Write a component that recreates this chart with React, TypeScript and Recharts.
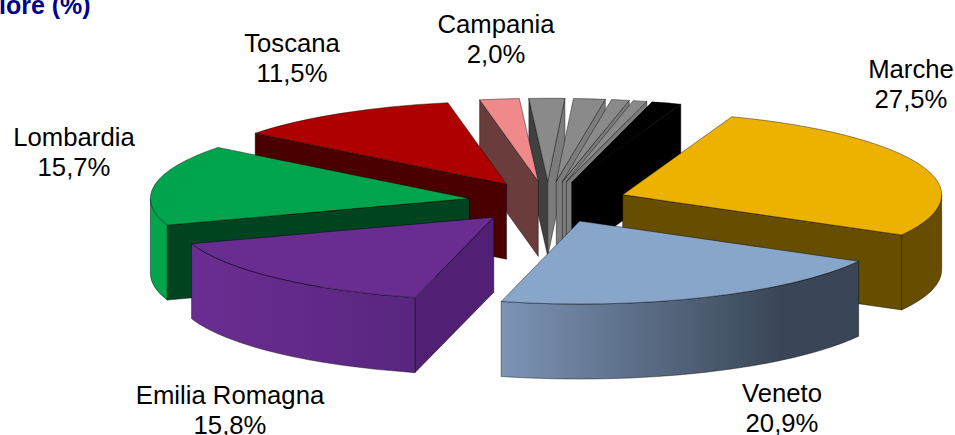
import React from "react";
import { PieChart, Pie } from "recharts";

// shares in %, clockwise from the back of the pie down the right side
const rightNames = ["Altro 1", "Altro 2", "Altro 3", "Altro 4", "Altro 5", "Marche", "Veneto"];
const rightValues = [1.8, 1.6, 0.9, 0.7, 1.5, 27.5, 20.9];
// counterclockwise from the same point, down the left side
const leftNames = ["Campania", "Toscana", "Lombardia", "Emilia Romagna"];
const leftValues = [2.0, 11.5, 15.74, 15.84];

const labelled = ["Marche", "Veneto", "Emilia Romagna", "Lombardia", "Toscana", "Campania"];

const FIRST_SLICE = 20; // degrees clockwise from top where Marche starts
const SQUASH = 83 / 319;
const DEPTH = 75;
const EXPLODE = 0.25;

const styles: Record<string, any> = {
  Marche: { top: "#EDB200", start: "#664D00", end: "#664D00", arc: "#664D00" },
  Veneto: { top: "#88A5CA", start: "#3A4657", end: "#7C94B5", arc: "url(#venetoArc)" },
  "Emilia Romagna": { top: "#692C91", start: "#512074", end: "#512074", arc: "url(#emiliaArc)" },
  Lombardia: { top: "#00A44C", start: "#00431F", end: "#00431F", arc: "#00A44C" },
  Toscana: { top: "#AE0000", start: "#4A0000", end: "#4A0000", arc: "#4A0000" },
  Campania: { top: "#F08A8A", start: "#6A3C3C", end: "#6A3C3C", arc: "#6A3C3C" },
  "Altro 1": { top: "#8A8A8A", start: "#404040", end: "#7C7C7C", arc: "#7C7C7C" },
  "Altro 2": { top: "#8A8A8A", start: "#404040", end: "#7C7C7C", arc: "#7C7C7C" },
  "Altro 3": { top: "#8A8A8A", start: "#404040", end: "#7C7C7C", arc: "#7C7C7C" },
  "Altro 4": { top: "#8A8A8A", start: "#404040", end: "#7C7C7C", arc: "#7C7C7C" },
  "Altro 5": { top: "#000000", start: "#000000", end: "#000000", arc: "#000000" },
};

// label centres relative to the pie centre
const labelSpots: Record<string, [number, number]> = {
  Marche: [363, -124],
  Veneto: [234, 200],
  "Emilia Romagna": [-318, 202],
  Lombardia: [-474, -56],
  Toscana: [-256, -150],
  Campania: [-52, -169],
};

const sum = (xs: number[]) => xs.reduce((a, b) => a + b, 0);
const toRad = (d: number) => (d * Math.PI) / 180;

const backAngle = 90 - (FIRST_SLICE - 3.6 * sum(rightValues.slice(0, 5)));
const rightData = rightNames.map((name, i) => ({ name, value: rightValues[i] }));
const leftData = leftNames.map((name, i) => ({ name, value: leftValues[i] }));

const Slice3D = (props: any) => {
  const { cx, cy, outerRadius, startAngle, endAngle, name } = props;
  const st = styles[name] || styles["Altro 1"];
  const a = outerRadius;
  const b = outerRadius * SQUASH;

  let t1 = 90 - Math.max(startAngle, endAngle);
  let t2 = 90 - Math.min(startAngle, endAngle);
  while (t1 < 0) {
    t1 += 360;
    t2 += 360;
  }
  const mid = (t1 + t2) / 2;
  const ox = cx + EXPLODE * a * Math.sin(toRad(mid));
  const oy = cy - EXPLODE * b * Math.cos(toRad(mid));
  const pt = (t: number) => [ox + a * Math.sin(toRad(t)), oy - b * Math.cos(toRad(t))];

  const [x1, y1] = pt(t1);
  const [x2, y2] = pt(t2);
  const line = { stroke: "#000", strokeOpacity: 0.6, strokeWidth: 0.7, strokeLinejoin: "round" as const };

  const wall = (x: number, y: number, fill: string) => (
    <path d={`M${ox},${oy}L${x},${y}L${x},${y + DEPTH}L${ox},${oy + DEPTH}Z`} fill={fill} {...line} />
  );

  const lo = Math.max(t1, 90);
  const hi = Math.min(t2, 270);
  let arc = null;
  if (hi > lo) {
    const [ax, ay] = pt(lo);
    const [bx, by] = pt(hi);
    arc = (
      <path
        d={`M${ax},${ay}A${a},${b} 0 0 1 ${bx},${by}L${bx},${by + DEPTH}A${a},${b} 0 0 0 ${ax},${ay + DEPTH}Z`}
        fill={st.arc}
        {...line}
      />
    );
  }

  return (
    <g>
      {Math.sin(toRad(t1)) < 0 && wall(x1, y1, st.start)}
      {Math.sin(toRad(t2)) > 0 && wall(x2, y2, st.end)}
      {arc}
      <path d={`M${ox},${oy}L${x1},${y1}A${a},${b} 0 0 1 ${x2},${y2}Z`} fill={st.top} {...line} />
    </g>
  );
};

const renderLabel = (props: any) => {
  const { cx, cy, name, value } = props;
  if (!labelled.includes(name)) return null;
  const [dx, dy] = labelSpots[name];
  const x = cx + dx;
  const y = cy + dy;
  return (
    <text x={x} textAnchor="middle" fontFamily="Liberation Sans" fontSize={25.7} fill="#000">
      <tspan x={x} y={y}>{name}</tspan>
      <tspan x={x} y={y + 30}>{value.toFixed(1).replace(".", ",")}%</tspan>
    </text>
  );
};

export default function App() {
  return (
    <div style={{ position: "absolute", left: 0, top: 0, width: 955, height: 435, overflow: "hidden", background: "#fff" }}>
      <PieChart width={955} height={435} margin={{ top: 0, right: 0, bottom: 0, left: 0 }}>
        <defs>
          <linearGradient id="venetoArc" x1="0" y1="0" x2="1" y2="0">
            <stop offset="0" stopColor="#7C94B5" />
            <stop offset="0.78" stopColor="#3A4657" />
            <stop offset="1" stopColor="#3A4657" />
          </linearGradient>
          <linearGradient id="emiliaArc" x1="0" y1="0" x2="1" y2="0">
            <stop offset="0" stopColor="#6B2D92" />
            <stop offset="1" stopColor="#58267F" />
          </linearGradient>
        </defs>
        <text x={-1} y={14} fontFamily="Liberation Sans" fontWeight="bold" fontSize={25} fill="#00008B">
          lore (%)
        </text>
        <Pie
          data={rightData}
          dataKey="value"
          nameKey="name"
          cx={548}
          cy={202}
          outerRadius={319}
          startAngle={backAngle}
          endAngle={backAngle - 3.6 * sum(rightValues)}
          shape={Slice3D}
          label={renderLabel}
          labelLine={false}
          isAnimationActive={false}
        />
        <Pie
          data={leftData}
          dataKey="value"
          nameKey="name"
          cx={548}
          cy={202}
          outerRadius={319}
          startAngle={backAngle}
          endAngle={backAngle + 3.6 * sum(leftValues)}
          shape={Slice3D}
          label={renderLabel}
          labelLine={false}
          isAnimationActive={false}
        />
      </PieChart>
    </div>
  );
}
